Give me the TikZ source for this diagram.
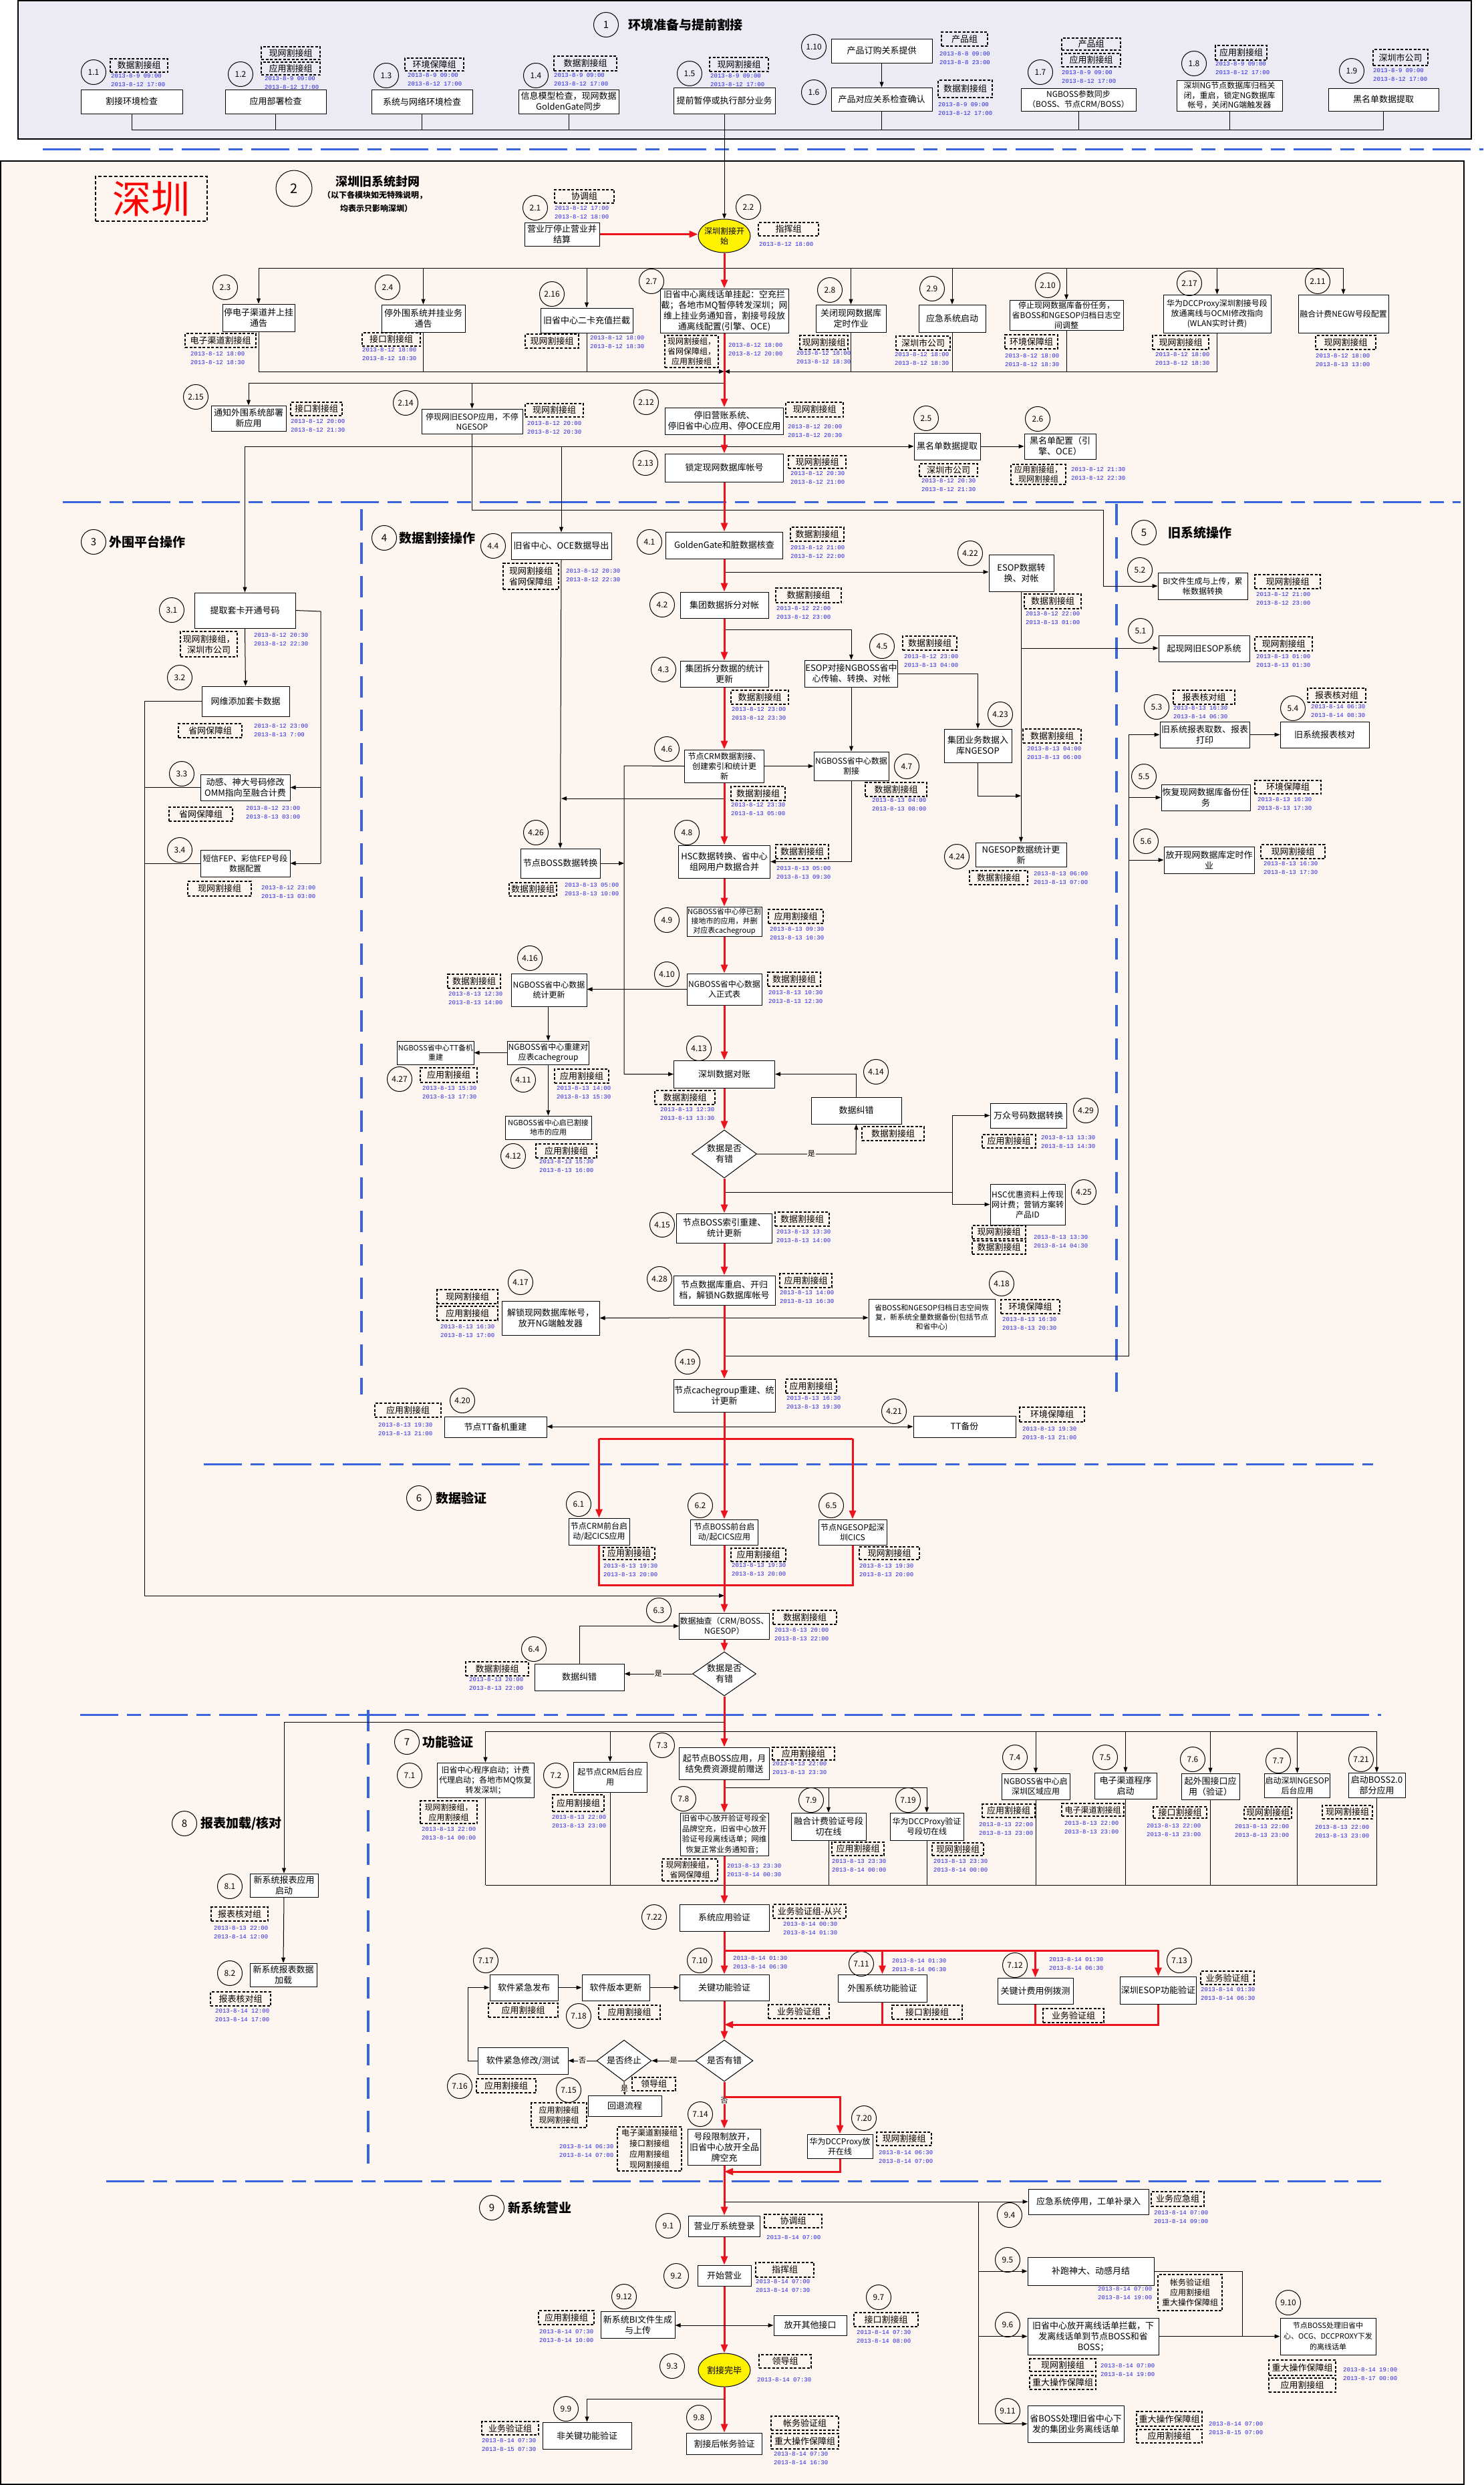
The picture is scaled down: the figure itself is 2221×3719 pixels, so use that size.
\documentclass[tikz,border=0pt]{standalone}
\usepackage{fontspec}
\setmainfont{Noto Sans CJK SC}
\newfontfamily\mono{Liberation Mono}
\usetikzlibrary{arrows.meta,shapes.geometric}
\definecolor{pA}{RGB}{236,234,243}
\definecolor{pB}{RGB}{253,245,240}
\definecolor{bl}{RGB}{58,100,222}
\definecolor{dtc}{RGB}{35,35,225}
\definecolor{rr}{RGB}{235,20,28}
\newcommand\fsz[2]{\fontsize{#1}{#2}\selectfont}
\newcommand\bxn[7][]{\node[bx,minimum width={(#5)-(#3)},minimum height={(#6)-(#4)},#1] (#2) at ({((#3)+(#5))/2},{((#4)+(#6))/2}) {#7};}
\newcommand\grn[7][]{\node[grp,minimum width={(#5)-(#3)},minimum height={(#6)-(#4)},#1] (#2) at ({((#3)+(#5))/2},{((#4)+(#6))/2}) {#7};}
\newcommand\mbx[6][]{\node[bx,minimum width={#3},minimum height={(#5)-(#4)},#1] (#2) at (1084,{((#4)+(#5))/2}) {#6};}
\newcommand\cnn[4]{\node[cn] (#1) at (#2,#3) {#4};}
\newcommand\dtn[4]{\node[dt] (#1) at (#2,#3) {#4};}
\begin{document}
\begin{tikzpicture}[x=1pt,y=-1pt,
 bx/.style={draw,fill=white,line width=1pt,inner sep=1pt,align=center,font=\fsz{13}{16}},
 grp/.style={draw,dash pattern=on 4pt off 2.5pt,line width=1.1pt,inner sep=1pt,align=center,font=\fsz{13}{16}},
 cn/.style={circle,draw,line width=1pt,minimum size=37pt,inner sep=0pt,font=\fsz{12}{14}},
 dt/.style={anchor=west,inner sep=0pt,align=left,text=dtc,font=\mono\fsz{9}{13}},
 ln/.style={line width=1pt},
 ar/.style={line width=1pt,-{Triangle[length=8pt,width=6pt]}},
 rl/.style={line width=3pt,draw=rr},
 ra/.style={line width=3pt,draw=rr,-{Triangle[length=13pt,width=10pt]}},
 bd/.style={draw=bl,line width=3pt,dash pattern=on 57pt off 13pt on 21pt off 13pt},
 bv/.style={draw=bl,line width=3.5pt,dash pattern=on 32pt off 18pt},
 ttl/.style={anchor=west,inner sep=0pt,font=\bfseries\fsz{19}{22}},
 dia/.style={diamond,draw,fill=white,line width=1pt,inner sep=0pt,aspect=1.4,align=center,font=\fsz{13}{16}},
 yel/.style={ellipse,draw,fill=yellow,line width=1pt,inner sep=0pt},
 lab/.style={fill=pB,inner sep=1pt,font=\fsz{11}{12}},
 f12/.style={font=\fsz{12}{15}},
 f11/.style={font=\fsz{11}{14}}]
\useasboundingbox (0,0) rectangle (2221,3719);
% panels
\filldraw[fill=pA,draw=black,line width=1.5pt] (27,1) rectangle (2202,208);
\filldraw[fill=pB,draw=black,line width=1.5pt] (1,241) rectangle (2191,3718);
% blue dashed separators
\draw[bd] (64,223) -- (2220,223);
\draw[bd] (94,751) -- (2186,751);
\draw[bv] (541,762) -- (541,2087);
\draw[bv] (1671,754) -- (1671,2083);
\draw[bd] (305,2191) -- (2055,2191);
\draw[bd] (120,2566) -- (2067,2566);
\draw[bv] (551,2559) -- (551,3238);
\draw[bd] (159,3264) -- (2067,3264);

% ===== Section 1 =====
\node[cn,font=\fsz{15}{18}] (c1) at (907,37) {1};
\node[ttl] (t1) at (940,37) {环境准备与提前割接};
\bxn{b11}{121}{134}{273}{170}{割接环境检查}
\cnn{c11}{140}{108}{1.1}
\grn{g11}{165}{88}{251}{108}{数据割接组}
\dtn{d11}{166}{120.5}{2013-8-9 09:00\\2013-8-12 17:00}
\bxn{b12}{337}{134}{488}{170}{应用部署检查}
\cnn{c12}{360}{111}{1.2}
\grn{g12a}{391}{70}{479}{89}{现网割接组}
\grn{g12b}{391}{93}{479}{112}{应用割接组}
\dtn{d12}{396}{124}{2013-8-9 09:00\\2013-8-12 17:00}
\bxn{b13}{556}{134}{707}{170}{系统与网络环境检查}
\cnn{c13}{578}{113}{1.3}
\grn{g13}{606}{87}{694}{106}{环境保障组}
\dtn{d13}{610}{119.5}{2013-8-9 09:00\\2013-8-12 17:00}
\bxn{b14}{776}{134}{926}{170}{信息模型检查，现网数据\\GoldenGate同步}
\cnn{c14}{802}{113}{1.4}
\grn{g14}{829}{84}{923}{106}{数据割接组}
\dtn{d14}{829}{119.5}{2013-8-9 09:00\\2013-8-12 17:00}
\bxn{b15}{1008}{131}{1160}{170}{提前暂停或执行部分业务}
\cnn{c15}{1032}{110}{1.5}
\grn{g15}{1062}{86}{1150}{107}{现网割接组}
\dtn{d15}{1063}{120.5}{2013-8-9 09:00\\2013-8-12 17:00}
\bxn{b110}{1244}{58}{1395}{94}{产品订购关系提供}
\cnn{c110}{1218}{70}{1.10}
\grn{g110}{1409}{48}{1478}{69}{产品组}
\dtn{d110}{1406}{87.5}{2013-8-8 09:00\\2013-8-8 23:00}
\bxn{b16}{1244}{131}{1395}{166}{产品对应关系检查确认}
\cnn{c16}{1218}{138}{1.6}
\grn{g16}{1404}{120}{1485}{146}{数据割接组}
\dtn{d16}{1404}{163.5}{2013-8-9 09:00\\2013-8-12 17:00}
\bxn[f12]{b17}{1528}{132}{1700}{166}{NGBOSS参数同步\\（BOSS、节点CRM/BOSS）}
\cnn{c17}{1557}{108}{1.7}
\grn{g17a}{1589}{57}{1677}{75}{产品组}
\grn{g17b}{1589}{80}{1677}{100}{应用割接组}
\dtn{d17}{1589}{115}{2013-8-9 09:00\\2013-8-12 17:00}
\bxn[font=\fsz{12}{14.5}]{b18}{1761}{120}{1919}{166}{深圳NG节点数据库归档关\\闭，重启，锁定NG数据库\\帐号，关闭NG端触发器}
\cnn{c18}{1787}{95}{1.8}
\grn{g18}{1819}{68}{1896}{90}{应用割接组}
\dtn{d18}{1819}{102.5}{2013-8-9 09:00\\2013-8-12 17:00}
\bxn{b19}{1988}{132}{2153}{166}{黑名单数据提取}
\cnn{c19}{2023}{106}{1.9}
\grn{g19}{2055}{74}{2137}{98}{深圳市公司}
\dtn{d19}{2055}{112}{2013-8-9 09:00\\2013-8-12 17:00}

% ===== Section 2 =====
\node[cn,minimum size=54pt,font=\fsz{20}{22}] (c2) at (440,282) {2};
\node[font=\bfseries\fsz{18}{20},inner sep=0pt] (t2) at (565,272) {深圳旧系统封网};
\node[font=\bfseries\fsz{12}{14},inner sep=0pt] (t2b) at (561,292) {（以下各模块如无特殊说明，};
\node[font=\bfseries\fsz{12}{14},inner sep=0pt] (t2c) at (563,312) {均表示只影响深圳）};
\node[draw,dash pattern=on 5pt off 3pt,line width=1.2pt,minimum width=167pt,minimum height=67pt,inner sep=0pt,text=red,font=\fsz{58}{60}] (sz) at (226.5,297.5) {深圳};

\bxn{b21}{785}{333}{897}{368}{营业厅停止营业并\\结算}
\cnn{c21}{801}{311}{2.1}
\grn{g21}{830}{284}{919}{304}{协调组}
\dtn{d21}{830}{318.5}{2013-8-12 17:00\\2013-8-12 18:00}
\node[yel,minimum width=78pt,minimum height=50pt] (e22) at (1084,353) {};
\node[font=\fsz{12}{15},align=center] (e22t) at (1084,353) {深圳割接开\\始};
\cnn{c22}{1120}{310}{2.2}
\grn{g22}{1135}{333}{1225}{353}{指挥组}
\dtn{d22}{1136}{366}{2013-8-12 18:00}

\bxn{b23}{333}{455}{441}{496}{停电子渠道并上挂\\通告}
\cnn{c23}{337}{430}{2.3}
\grn{g23}{277}{499}{383}{520}{电子渠道割接组}
\dtn{d23}{285}{536}{2013-8-12 18:00\\2013-8-12 18:30}
\bxn{b24}{571}{456}{696}{497}{停外围系统并挂业务\\通告}
\cnn{c24}{580}{430}{2.4}
\grn{g24}{542}{498}{629}{518}{接口割接组}
\dtn{d24}{542}{530.5}{2013-8-12 18:00\\2013-8-12 18:30}
\bxn{b216}{809}{461}{947}{498}{旧省中心二卡充值拦截}
\cnn{c216}{826}{440}{2.16}
\grn{g216}{786}{500}{866}{521}{现网割接组}
\dtn{d216}{883}{512.5}{2013-8-12 18:00\\2013-8-12 18:30}
\mbx{b27}{192}{432}{498}{旧省中心离线话单挂起：空充拦\\截；各地市MQ暂停转发深圳；网\\维上挂业务通知音，割接号段放\\通离线配置(引擎、OCE)}
\cnn{c27}{975}{421}{2.7}
\grn[f12]{g27}{995}{502}{1075}{550}{现网割接组，\\省网保障组，\\应用割接组}
\dtn{d27}{1090}{523.5}{2013-8-12 18:00\\2013-8-12 20:00}
\bxn{b28}{1221}{456}{1326}{497}{关闭现网数据库\\定时作业}
\cnn{c28}{1242}{434}{2.8}
\grn{g28}{1197}{502}{1269}{523}{现网割接组}
\dtn{d28}{1192}{535.5}{2013-8-12 18:00\\2013-8-12 18:30}
\bxn{b29}{1375}{456}{1475}{497}{应急系统启动}
\cnn{c29}{1395}{432}{2.9}
\grn{g29}{1341}{503}{1422}{524}{深圳市公司}
\dtn{d29}{1339}{537.5}{2013-8-12 18:00\\2013-8-12 18:30}
\bxn[f12]{b210}{1511}{449}{1681}{494}{停止现网数据库备份任务，\\省BOSS和NGESOP归档日志空\\间调整}
\cnn{c210}{1568}{427}{2.10}
\grn{g210}{1504}{501}{1583}{522}{环境保障组}
\dtn{d210}{1504}{539.5}{2013-8-12 18:00\\2013-8-12 18:30}
\bxn[f12]{b217}{1741}{441}{1902}{498}{华为DCCProxy深圳割接号段\\放通离线与OCMI修改指向\\(WLAN实时计费)}
\cnn{c217}{1780}{424}{2.17}
\grn{g217}{1725}{502}{1809}{523}{现网割接组}
\dtn{d217}{1729}{537.5}{2013-8-12 18:00\\2013-8-12 18:30}
\bxn[f12]{b211}{1943}{441}{2078}{498}{融合计费NEGW号段配置}
\cnn{c211}{1972}{421}{2.11}
\grn{g211}{1969}{502}{2059}{523}{现网割接组}
\dtn{d211}{1969}{539.5}{2013-8-12 18:00\\2013-8-13 13:00}

\bxn{b215}{316}{607}{428}{645}{通知外围系统部署\\新应用}
\cnn{c215}{293}{594}{2.15}
\grn{g215}{435}{602}{512}{622}{接口割接组}
\dtn{d215}{435}{637.5}{2013-8-12 20:00\\2013-8-12 21:30}
\bxn[f12]{b214}{631}{612}{782}{649}{停现网旧ESOP应用，不停\\NGESOP}
\cnn{c214}{607}{603}{2.14}
\grn{g214}{786}{604}{873}{624}{现网割接组}
\dtn{d214}{789}{640.5}{2013-8-12 20:00\\2013-8-12 20:30}
\mbx{b212}{177}{610}{650}{停旧营账系统、\\停旧省中心应用、停OCE应用}
\cnn{c212}{967}{602}{2.12}
\grn{g212}{1176}{602}{1262}{624}{现网割接组}
\dtn{d212}{1179}{645.5}{2013-8-12 20:00\\2013-8-12 20:30}
\mbx{b213}{177}{679}{721}{锁定现网数据库帐号}
\cnn{c213}{966}{693}{2.13}
\grn{g213}{1180}{682}{1266}{701}{现网割接组}
\dtn{d213}{1183}{715.5}{2013-8-12 20:30\\2013-8-12 21:00}
\bxn{b25}{1368}{648}{1467}{688}{黑名单数据提取}
\cnn{c25}{1386}{626}{2.5}
\grn{g25}{1376}{694}{1463}{713}{深圳市公司}
\dtn{d25}{1379}{726.5}{2013-8-12 20:30\\2013-8-12 21:30}
\bxn{b26}{1533}{649}{1640}{687}{黑名单配置（引\\擎、OCE）}
\cnn{c26}{1553}{627}{2.6}
\grn[font=\fsz{12}{14.5}]{g26}{1513}{695}{1595}{725}{应用割接组，\\现网割接组}
\dtn{d26}{1603}{709}{2013-8-12 21:30\\2013-8-12 22:30}

% ===== Section 3 =====
\node[cn,font=\fsz{15}{18}] (c3) at (140,811) {3};
\node[ttl] (t3) at (163,811) {外围平台操作};
\bxn{b31}{291}{887}{442}{940}{提取套卡开通号码}
\cnn{c31}{257}{913}{3.1}
\grn{g31}{270}{945}{355}{983}{现网割接组，\\深圳市公司}
\dtn{d31}{380}{957}{2013-8-12 20:30\\2013-8-12 22:30}
\bxn{b32}{302}{1027}{433}{1072}{网维添加套卡数据}
\cnn{c32}{269}{1014}{3.2}
\grn{g32}{267}{1083}{362}{1104}{省网保障组}
\dtn{d32}{380}{1093.5}{2013-8-12 23:00\\2013-8-13 7:00}
\bxn{b33}{300}{1159}{434}{1198}{动感、神大号码修改\\OMM指向至融合计费}
\cnn{c33}{272}{1158}{3.3}
\grn{g33}{253}{1208}{348}{1229}{省网保障组}
\dtn{d33}{368}{1216}{2013-8-12 23:00\\2013-8-13 03:00}
\bxn[f12]{b34}{300}{1272}{434}{1312}{短信FEP、彩信FEP号段\\数据配置}
\cnn{c34}{269}{1272}{3.4}
\grn{g34}{281}{1319}{376}{1341}{现网割接组}
\dtn{d34}{391}{1335}{2013-8-12 23:00\\2013-8-13 03:00}

% ===== Section 4 =====
\node[cn,font=\fsz{15}{18}] (c4) at (575,805) {4};
\node[ttl] (t4) at (597,805) {数据割接操作};
\bxn{b44}{765}{797}{915}{837}{旧省中心、OCE数据导出}
\cnn{c44}{738}{817}{4.4}
\grn{g44}{753}{843}{836}{882}{现网割接组\\省网保障组}
\dtn{d44}{847}{861.5}{2013-8-12 20:30\\2013-8-12 22:30}
\mbx{b41}{175}{796}{836}{GoldenGate和脏数据核查}
\cnn{c41}{972}{811}{4.1}
\grn{g41}{1183}{789}{1263}{810}{数据割接组}
\dtn{d41}{1183}{826.5}{2013-8-12 21:00\\2013-8-12 22:00}
\mbx{b42}{132}{886}{925}{集团数据拆分对帐}
\cnn{c42}{991}{905}{4.2}
\grn{g42}{1161}{880}{1259}{902}{数据割接组}
\dtn{d42}{1162}{917.5}{2013-8-12 22:00\\2013-8-12 23:00}
\bxn{b422}{1480}{830}{1577}{885}{ESOP数据转\\换、对帐}
\cnn{c422}{1452}{828}{4.22}
\grn{g422}{1533}{889}{1618}{911}{数据割接组}
\dtn{d422}{1535}{925.5}{2013-8-12 22:00\\2013-8-13 01:00}
\mbx{b43}{132}{989}{1028}{集团拆分数据的统计\\更新}
\cnn{c43}{993}{1002}{4.3}
\grn{g43}{1094}{1033}{1180}{1054}{数据割接组}
\dtn{d43}{1095}{1068.5}{2013-8-12 23:00\\2013-8-12 23:30}
\bxn{b45}{1207}{988}{1341}{1028}{ESOP对接NGBOSS省中\\心传输、转换、对帐}
\cnn{c45}{1320}{967}{4.5}
\grn{g45}{1351}{952}{1432}{973}{数据割接组}
\dtn{d45}{1353}{989.5}{2013-8-12 23:00\\2013-8-13 04:00}
\bxn{b423}{1413}{1091}{1514}{1141}{集团业务数据入\\库NGESOP}
\cnn{c423}{1497}{1069}{4.23}
\grn{g423}{1531}{1091}{1618}{1112}{数据割接组}
\dtn{d423}{1537}{1127}{2013-8-13 04:00\\2013-8-13 06:00}
\mbx[f12]{b46}{119}{1122}{1171}{节点CRM数据割接、\\创建索引和统计更\\新}
\cnn{c46}{998}{1121}{4.6}
\grn{g46}{1094}{1177}{1175}{1198}{数据割接组}
\dtn{d46}{1094}{1211.5}{2013-8-12 23:30\\2013-8-13 05:00}
\bxn[f12]{b47}{1218}{1125}{1330}{1168}{NGBOSS省中心数据\\割接}
\cnn{c47}{1357}{1147}{4.7}
\grn{g47}{1295}{1171}{1387}{1192}{数据割接组}
\dtn{d47}{1305}{1204.5}{2013-8-13 04:00\\2013-8-13 08:00}
\bxn{b424}{1460}{1261}{1596}{1297}{NGESOP数据统计更\\新}
\cnn{c424}{1432}{1282}{4.24}
\grn{g424}{1451}{1303}{1538}{1324}{数据割接组}
\dtn{d424}{1547}{1314}{2013-8-13 06:00\\2013-8-13 07:00}
\bxn{b426}{779}{1270}{898}{1314}{节点BOSS数据转换}
\cnn{c426}{802}{1246}{4.26}
\grn{g426}{762}{1321}{833}{1341}{数据割接组}
\dtn{d426}{845}{1331.5}{2013-8-13 05:00\\2013-8-13 10:00}
\mbx{b48}{137}{1265}{1314}{HSC数据转换、省中心\\组网用户数据合并}
\cnn{c48}{1028}{1246}{4.8}
\grn{g48}{1161}{1264}{1240}{1285}{数据割接组}
\dtn{d48}{1162}{1306.5}{2013-8-13 05:00\\2013-8-13 09:30}
\mbx[f11]{b49}{112}{1357}{1401}{NGBOSS省中心停已割\\接地市的应用，并删\\对应表cachegroup}
\cnn{c49}{998}{1377}{4.9}
\grn{g49}{1150}{1361}{1232}{1382}{应用割接组}
\dtn{d49}{1152}{1397}{2013-8-13 09:30\\2013-8-13 10:30}
\mbx[f12]{b410}{112}{1457}{1504}{NGBOSS省中心数据\\入正式表}
\cnn{c410}{998}{1458}{4.10}
\grn{g410}{1149}{1455}{1228}{1476}{数据割接组}
\dtn{d410}{1150}{1492.5}{2013-8-13 10:30\\2013-8-13 12:30}
\bxn[f12]{b416}{765}{1457}{878}{1506}{NGBOSS省中心数据\\统计更新}
\cnn{c416}{793}{1434}{4.16}
\grn{g416}{670}{1458}{749}{1479}{数据割接组}
\dtn{d416}{671}{1494}{2013-8-13 12:30\\2013-8-13 14:00}
\bxn[f12]{b411}{760}{1558}{881}{1593}{NGBOSS省中心重建对\\应表cachegroup}
\cnn{c411}{783}{1616}{4.11}
\grn{g411}{830}{1600}{911}{1621}{应用割接组}
\dtn{d411}{833}{1635.5}{2013-8-13 14:00\\2013-8-13 15:30}
\bxn[f11]{b427}{595}{1558}{709}{1593}{NGBOSS省中心TT备机\\重建}
\cnn{c427}{598}{1615}{4.27}
\grn{g427}{629}{1598}{714}{1620}{应用割接组}
\dtn{d427}{632}{1635.5}{2013-8-13 15:30\\2013-8-13 17:30}
\bxn[f11]{b412}{756}{1670}{885}{1705}{NGBOSS省中心启已割接\\地市的应用}
\cnn{c412}{768}{1730}{4.12}
\grn{g412}{802}{1712}{893}{1733}{应用割接组}
\dtn{d412}{807}{1745}{2013-8-13 15:30\\2013-8-13 16:00}
\mbx{b413}{151}{1587}{1628}{深圳数据对账}
\cnn{c413}{1046}{1569}{4.13}
\grn{g413}{980}{1632}{1070}{1653}{数据割接组}
\dtn{d413}{988}{1667.5}{2013-8-13 12:30\\2013-8-13 13:30}
\bxn{b414}{1214}{1642}{1349}{1682}{数据纠错}
\cnn{c414}{1311}{1604}{4.14}
\grn{g414}{1290}{1686}{1383}{1707}{数据割接组}
\node[dia,minimum width=97pt,minimum height=72pt] (d41) at (1084,1727) {数据是否\\有错};
\bxn{b429}{1482}{1651}{1596}{1688}{万众号码数据转换}
\cnn{c429}{1625}{1662}{4.29}
\grn{g429}{1470}{1698}{1550}{1718}{应用割接组}
\dtn{d429}{1558}{1709}{2013-8-13 13:30\\2013-8-13 14:30}
\bxn[f12]{b425}{1482}{1772}{1594}{1833}{HSC优惠资料上传现\\网计费；营销方案转\\产品ID}
\cnn{c425}{1622}{1784}{4.25}
\grn{g425a}{1455}{1834}{1535}{1854}{现网割接组}
\grn{g425b}{1455}{1857}{1535}{1877}{数据割接组}
\dtn{d425}{1547}{1858.5}{2013-8-13 13:30\\2013-8-14 04:30}
\mbx{b415}{143}{1816}{1860}{节点BOSS索引重建、\\统计更新}
\cnn{c415}{991}{1833}{4.15}
\grn{g415}{1160}{1814}{1241}{1835}{数据割接组}
\dtn{d415}{1162}{1850.5}{2013-8-13 13:30\\2013-8-13 14:00}
\mbx{b428}{152}{1909}{1953}{节点数据库重启、开归\\档，解锁NG数据库帐号}
\cnn{c428}{987}{1914}{4.28}
\grn{g428}{1167}{1906}{1245}{1927}{应用割接组}
\dtn{d428}{1167}{1941}{2013-8-13 14:00\\2013-8-13 16:30}
\bxn{b417}{751}{1947}{897}{1998}{解锁现网数据库帐号，\\放开NG端触发器}
\cnn{c417}{779}{1919}{4.17}
\grn{g417a}{654}{1930}{745}{1951}{现网割接组}
\grn{g417b}{654}{1955}{745}{1976}{应用割接组}
\dtn{d417}{659}{1992}{2013-8-13 16:30\\2013-8-13 17:00}
\bxn[f11]{b418}{1300}{1944}{1489}{2000}{省BOSS和NGESOP归档日志空间恢\\复，新系统全量数据备份(包括节点\\和省中心)}
\cnn{c418}{1499}{1921}{4.18}
\grn{g418}{1498}{1945}{1586}{1966}{环境保障组}
\dtn{d418}{1500}{1981.5}{2013-8-13 16:30\\2013-8-13 20:30}
\mbx{b419}{152}{2064}{2113}{节点cachegroup重建、统\\计更新}
\cnn{c419}{1029}{2038}{4.19}
\grn{g419}{1176}{2064}{1252}{2085}{应用割接组}
\dtn{d419}{1177}{2099.5}{2013-8-13 16:30\\2013-8-13 19:30}
\bxn{b420}{665}{2120}{818}{2151}{节点TT备机重建}
\cnn{c420}{692}{2096}{4.20}
\grn{g420}{561}{2100}{660}{2121}{应用割接组}
\dtn{d420}{566}{2139.5}{2013-8-13 19:30\\2013-8-13 21:00}
\bxn{b421}{1367}{2119}{1520}{2151}{TT备份}
\cnn{c421}{1338}{2112}{4.21}
\grn{g421}{1526}{2106}{1623}{2128}{环境保障组}
\dtn{d421}{1530}{2145.5}{2013-8-13 19:30\\2013-8-13 21:00}

% ===== Section 5 =====
\node[cn,font=\fsz{15}{18}] (c5) at (1712,797) {5};
\node[ttl] (t5) at (1748,797) {旧系统操作};
\bxn[f12]{b52}{1733}{857}{1867}{897}{BI文件生成与上传，累\\帐数据转换}
\cnn{c52}{1706}{853}{5.2}
\grn{g52}{1878}{860}{1976}{881}{现网割接组}
\dtn{d52}{1880}{896.5}{2013-8-12 21:00\\2013-8-12 23:00}
\bxn{b51}{1734}{951}{1870}{990}{起现网旧ESOP系统}
\cnn{c51}{1707}{944}{5.1}
\grn{g51}{1878}{953}{1964}{974}{现网割接组}
\dtn{d51}{1880}{989.5}{2013-8-13 01:00\\2013-8-13 01:30}
\bxn{b53}{1736}{1080}{1870}{1119}{旧系统报表取数、报表\\打印}
\cnn{c53}{1731}{1058}{5.3}
\grn{g53}{1756}{1033}{1848}{1054}{报表核对组}
\dtn{d53}{1756}{1066.5}{2013-8-13 16:30\\2013-8-14 06:30}
\bxn{b54}{1916}{1080}{2049}{1119}{旧系统报表核对}
\cnn{c54}{1935}{1060}{5.4}
\grn{g54}{1957}{1030}{2044}{1051}{报表核对组}
\dtn{d54}{1962}{1064.5}{2013-8-14 06:30\\2013-8-14 08:30}
\bxn{b55}{1738}{1174}{1871}{1213}{恢复现网数据库备份任\\务}
\cnn{c55}{1712}{1162}{5.5}
\grn{g55}{1878}{1168}{1977}{1188}{环境保障组}
\dtn{d55}{1882}{1203.5}{2013-8-13 16:30\\2013-8-13 17:30}
\bxn{b56}{1742}{1267}{1877}{1307}{放开现网数据库定时作\\业}
\cnn{c56}{1715}{1259}{5.6}
\grn{g56}{1887}{1264}{1983}{1285}{现网割接组}
\dtn{d56}{1891}{1299}{2013-8-13 16:30\\2013-8-13 17:30}

% ===== Section 6 =====
\node[cn,font=\fsz{15}{18}] (c6) at (627,2242) {6};
\node[ttl] (t6) at (652,2242) {数据验证};
\bxn[f12]{b61}{851}{2272}{942}{2312}{节点CRM前台启\\动/起CICS应用}
\cnn{c61}{866}{2251}{6.1}
\grn{g61}{903}{2316}{980}{2334}{应用割接组}
\dtn{d61}{903}{2350.5}{2013-8-13 19:30\\2013-8-13 20:00}
\mbx[f12]{b62}{101}{2274}{2312}{节点BOSS前台启\\动/起CICS应用}
\cnn{c62}{1048}{2253}{6.2}
\grn{g62}{1094}{2317}{1176}{2337}{应用割接组}
\dtn{d62}{1095}{2349.5}{2013-8-13 19:30\\2013-8-13 20:00}
\bxn[f12]{b65}{1225}{2274}{1327}{2312}{节点NGESOP起深\\圳CICS}
\cnn{c65}{1244}{2253}{6.5}
\grn{g65}{1286}{2315}{1376}{2334}{现网割接组}
\dtn{d65}{1286}{2350.5}{2013-8-13 19:30\\2013-8-13 20:00}
\mbx[f12]{b63}{134}{2414}{2453}{数据抽查（CRM/BOSS、\\NGESOP）}
\cnn{c63}{986}{2410}{6.3}
\grn{g63}{1157}{2410}{1252}{2431}{数据割接组}
\dtn{d63}{1159}{2446.5}{2013-8-13 20:00\\2013-8-13 22:00}
\bxn{b64}{800}{2490}{934}{2530}{数据纠错}
\cnn{c64}{799}{2468}{6.4}
\grn{g64}{697}{2487}{791}{2508}{数据割接组}
\dtn{d64}{702}{2520}{2013-8-13 20:00\\2013-8-13 22:00}
\node[dia,minimum width=95pt,minimum height=66pt] (d6) at (1084,2505) {数据是否\\有错};

% ===== Section 7 / 8 =====
\node[cn,font=\fsz{15}{18}] (c7) at (609,2607) {7};
\node[ttl] (t7) at (632,2607) {功能验证};
\node[cn,font=\fsz{15}{18}] (c8) at (276,2729) {8};
\node[ttl] (t8) at (300,2729) {报表加载/核对};
\bxn{b81}{374}{2804}{476}{2839}{新系统报表应用\\启动}
\cnn{c81}{344}{2823}{8.1}
\grn{g81}{316}{2854}{401}{2875}{报表核对组}
\dtn{d81}{320}{2891.5}{2013-8-13 22:00\\2013-8-14 12:00}
\bxn{b82}{374}{2938}{474}{2973}{新系统报表数据\\加载}
\cnn{c82}{344}{2953}{8.2}
\grn{g82}{315}{2981}{405}{3002}{报表核对组}
\dtn{d82}{322}{3016}{2013-8-14 12:00\\2013-8-14 17:00}
\bxn[f12]{b71}{654}{2638}{799}{2690}{旧省中心程序启动；计费\\代理启动；各地市MQ恢复\\转发深圳；}
\cnn{c71}{613}{2657}{7.1}
\grn[f12]{g71}{629}{2695}{714}{2729}{现网割接组，\\应用割接组}
\dtn{d71}{631}{2743.5}{2013-8-13 22:00\\2013-8-14 00:00}
\bxn[f12]{b72}{858}{2637}{968}{2682}{起节点CRM后台应\\用}
\cnn{c72}{832}{2657}{7.2}
\grn{g72}{827}{2686}{904}{2711}{应用割接组}
\dtn{d72}{826}{2726}{2013-8-13 22:00\\2013-8-13 23:00}
\mbx{b73}{135}{2615}{2663}{起节点BOSS应用，月\\结免费资源提前赠送}
\cnn{c73}{991}{2612}{7.3}
\grn{g73}{1156}{2615}{1249}{2634}{应用割接组}
\dtn{d73}{1156}{2645.5}{2013-8-13 22:00\\2013-8-13 23:30}
\mbx[font=\fsz{11.5}{15.5}]{b78}{132}{2713}{2777}{旧省中心放开验证号段全\\品牌空充，旧省中心放开\\验证号段离线话单；网维\\恢复正常业务通知音；}
\cnn{c78}{1023}{2692}{7.8}
\grn[f12]{g78}{991}{2782}{1074}{2815}{现网割接组，\\省网保障组}
\dtn{d78}{1088}{2798.5}{2013-8-13 23:30\\2013-8-14 00:30}
\bxn{b79}{1184}{2713}{1296}{2754}{融合计费验证号段\\切在线}
\cnn{c79}{1214}{2694}{7.9}
\grn{g79}{1245}{2757}{1323}{2777}{应用割接组}
\dtn{d79}{1245}{2791.5}{2013-8-13 23:30\\2013-8-14 00:00}
\bxn[f12]{b719}{1332}{2713}{1442}{2754}{华为DCCProxy验证\\号段切在线}
\cnn{c719}{1359}{2694}{7.19}
\grn{g719}{1395}{2758}{1472}{2777}{现网割接组}
\dtn{d719}{1397}{2791.5}{2013-8-13 23:30\\2013-8-14 00:00}
\bxn[f12]{b74}{1499}{2654}{1601}{2693}{NGBOSS省中心启\\深圳区域应用}
\cnn{c74}{1519}{2630}{7.4}
\grn{g74}{1470}{2700}{1549}{2720}{应用割接组}
\dtn{d74}{1465}{2736.5}{2013-8-13 22:00\\2013-8-13 23:00}
\bxn{b75}{1638}{2653}{1731}{2692}{电子渠道程序\\启动}
\cnn{c75}{1654}{2630}{7.5}
\grn[f12]{g75}{1589}{2699}{1682}{2718}{电子渠道割接组}
\dtn{d75}{1593}{2734.5}{2013-8-13 22:00\\2013-8-13 23:00}
\bxn{b76}{1768}{2654}{1855}{2693}{起外围接口应\\用（验证）}
\cnn{c76}{1785}{2633}{7.6}
\grn{g76}{1726}{2704}{1806}{2721}{接口割接组}
\dtn{d76}{1716}{2738.5}{2013-8-13 22:00\\2013-8-13 23:00}
\bxn[f12]{b77}{1894}{2654}{1989}{2690}{启动深圳NGESOP\\后台应用}
\cnn{c77}{1913}{2635}{7.7}
\grn{g77}{1862}{2704}{1933}{2722}{现网割接组}
\dtn{d77}{1848}{2739.5}{2013-8-13 22:00\\2013-8-13 23:00}
\bxn{b721}{2018}{2653}{2103}{2690}{启动BOSS2.0\\部分应用}
\cnn{c721}{2037}{2633}{7.21}
\grn{g721}{1979}{2702}{2054}{2722}{现网割接组}
\dtn{d721}{1968}{2740.5}{2013-8-13 22:00\\2013-8-13 23:00}
\mbx{b722}{134}{2850}{2890}{系统应用验证}
\cnn{c722}{979}{2869}{7.22}
\grn{g722}{1157}{2850}{1266}{2871}{业务验证组-从兴}
\dtn{d722}{1172}{2885.5}{2013-8-14 00:30\\2013-8-14 01:30}
\mbx{b710}{134}{2955}{2994}{关键功能验证}
\cnn{c710}{1047}{2934}{7.10}
\grn{g710}{1150}{3000}{1241}{3021}{业务验证组}
\dtn{d710}{1097}{2937}{2013-8-14 01:30\\2013-8-14 06:30}
\bxn{b711}{1254}{2955}{1387}{2996}{外围系统功能验证}
\cnn{c711}{1289}{2939}{7.11}
\grn{g711}{1335}{3001}{1440}{3022}{接口割接组}
\dtn{d711}{1335}{2941}{2013-8-14 01:30\\2013-8-14 06:30}
\bxn{b712}{1493}{2960}{1606}{2999}{关键计费用例拨测}
\cnn{c712}{1519}{2941}{7.12}
\grn{g712}{1561}{3006}{1652}{3027}{业务验证组}
\dtn{d712}{1570}{2938.5}{2013-8-14 01:30\\2013-8-14 06:30}
\bxn{b713}{1677}{2958}{1790}{2999}{深圳ESOP功能验证}
\cnn{c713}{1765}{2934}{7.13}
\grn{g713}{1797}{2950}{1877}{2970}{业务验证组}
\dtn{d713}{1797}{2984}{2013-8-14 01:30\\2013-8-14 06:30}
\bxn{b717}{733}{2955}{835}{2994}{软件紧急发布}
\cnn{c717}{727}{2934}{7.17}
\grn{g717}{731}{2998}{835}{3019}{应用割接组}
\bxn{b718}{871}{2955}{972}{2994}{软件版本更新}
\cnn{c718}{866}{3017}{7.18}
\grn{g718}{896}{3001}{988}{3022}{应用割接组}
\node[dia,minimum width=86pt,minimum height=62pt] (d71) at (1084,3084) {是否有错};
\node[dia,minimum width=82pt,minimum height=62pt] (d72) at (934,3084) {是否终止};
\bxn{bfix}{715}{3064}{850}{3104}{软件紧急修改/测试}
\cnn{c716}{688}{3122}{7.16}
\grn{g716}{713}{3111}{802}{3132}{应用割接组}
\bxn{bret}{880}{3136}{990}{3167}{回退流程}
\grn{gld}{946}{3109}{1011}{3129}{领导组}
\cnn{c715}{851}{3128}{7.15}
\grn[f12]{g715}{795}{3147}{878}{3184}{应用割接组\\现网割接组}
\mbx{b714}{109}{3186}{3240}{号段限制放开，\\旧省中心放开全品\\牌空充}
\cnn{c714}{1048}{3164}{7.14}
\grn[font=\fsz{12}{16}]{g714}{924}{3183}{1020}{3249}{电子渠道割接组\\接口割接组\\应用割接组\\现网割接组}
\dtn{d714}{837}{3219}{2013-8-14 06:30\\2013-8-14 07:00}
\bxn[f12]{b720}{1208}{3194}{1306}{3230}{华为DCCProxy放\\开在线}
\cnn{c720}{1293}{3170}{7.20}
\grn{g720}{1312}{3191}{1394}{3211}{现网割接组}
\dtn{d720}{1315}{3228}{2013-8-14 06:30\\2013-8-14 07:00}

% ===== Section 9 =====
\node[cn,font=\fsz{15}{18}] (c9) at (736,3304) {9};
\node[ttl] (t9) at (760,3304) {新系统营业};
\mbx{b91}{107}{3316}{3347}{营业厅系统登录}
\cnn{c91}{1000}{3331}{9.1}
\grn{g91}{1144}{3314}{1230}{3334}{协调组}
\dtn{d91}{1147}{3348}{2013-8-14 07:00}
\bxn{b94}{1539}{3276}{1719}{3314}{应急系统停用，工单补录入}
\cnn{c94}{1511}{3315}{9.4}
\grn{g94}{1723}{3280}{1802}{3302}{业务应急组}
\dtn{d94}{1727}{3317.5}{2013-8-14 07:00\\2013-8-14 09:00}
\mbx{b92}{80}{3390}{3421}{开始营业}
\cnn{c92}{1012}{3406}{9.2}
\grn{g92}{1131}{3386}{1218}{3408}{指挥组}
\dtn{d92}{1131}{3420.5}{2013-8-14 07:00\\2013-8-14 07:30}
\bxn{b95}{1538}{3378}{1727}{3420}{补跑神大、动感月结}
\cnn{c95}{1508}{3382}{9.5}
\grn[f12]{g95}{1733}{3404}{1829}{3458}{帐务验证组\\应用割接组\\重大操作保障组}
\dtn{d95}{1643}{3432}{2013-8-14 07:00\\2013-8-14 19:00}
\bxn{b96}{1538}{3469}{1734}{3524}{旧省中心放开离线话单拦截，下\\发离线话单到节点BOSS和省\\BOSS；}
\cnn{c96}{1508}{3479}{9.6}
\grn{g96a}{1541}{3530}{1640}{3549}{现网割接组}
\grn{g96b}{1541}{3555}{1640}{3576}{重大操作保障组}
\dtn{d96}{1647}{3546.5}{2013-8-14 07:00\\2013-8-14 19:00}
\bxn[font=\fsz{11}{16}]{b910}{1916}{3469}{2059}{3524}{节点BOSS处理旧省中\\心、OCG、DCCPROXY下发\\的离线话单}
\cnn{c910}{1928}{3446}{9.10}
\grn{g910a}{1899}{3532}{1999}{3555}{重大操作保障组}
\grn{g910b}{1899}{3559}{1999}{3580}{应用割接组}
\dtn{d910}{2010}{3553}{2013-8-14 19:00\\2013-8-17 00:00}
\bxn{b911}{1538}{3600}{1682}{3655}{省BOSS处理旧省中心下\\发的集团业务离线话单}
\cnn{c911}{1508}{3608}{9.11}
\grn{g911a}{1701}{3609}{1799}{3631}{重大操作保障组}
\grn{g911b}{1701}{3636}{1799}{3656}{应用割接组}
\dtn{d911}{1809}{3633.5}{2013-8-14 07:00\\2013-8-15 07:00}
\bxn{b97}{1158}{3465}{1267}{3495}{放开其他接口}
\cnn{c97}{1315}{3438}{9.7}
\grn{g97}{1278}{3461}{1374}{3482}{接口割接组}
\dtn{d97}{1282}{3496.5}{2013-8-14 07:30\\2013-8-14 08:00}
\bxn{b912}{899}{3459}{1010}{3499}{新系统BI文件生成\\与上传}
\cnn{c912}{934}{3437}{9.12}
\grn{g912}{806}{3458}{889}{3479}{应用割接组}
\dtn{d912}{807}{3495.5}{2013-8-14 07:30\\2013-8-14 10:00}
\node[yel,minimum width=78pt,minimum height=50pt] (e93) at (1084,3547) {};
\node[font=\fsz{13}{16}] (e93t) at (1084,3547) {割接完毕};
\cnn{c93}{1006}{3541}{9.3}
\grn{g93}{1136}{3524}{1214}{3544}{领导组}
\dtn{d93}{1133}{3561}{2013-8-14 07:30}
\bxn{b99}{812}{3625}{945}{3665}{非关键功能验证}
\cnn{c99}{847}{3605}{9.9}
\grn{g99}{721}{3624}{806}{3644}{业务验证组}
\dtn{d99}{721}{3659}{2013-8-14 07:30\\2013-8-15 07:30}
\mbx{b98}{113}{3641}{3673}{割接后帐务验证}
\cnn{c98}{1046}{3618}{9.8}
\grn{g98a}{1154}{3616}{1255}{3637}{帐务验证组}
\grn{g98b}{1154}{3642}{1255}{3665}{重大操作保障组}
\dtn{d98}{1158}{3678.5}{2013-8-14 07:30\\2013-8-14 16:30}

% ===== coordinates =====
\coordinate (h1) at (0,194);
\coordinate (h2) at (0,401);
\coordinate (h3) at (0,556);
\foreach \y in {556,573,668,763,856,942,1195,1784,1972,2029,2135,2153,2372,2388,2577,2591,2675,2821,2919,3030,3138,3250,3295,3480,3590}
  \coordinate (m\y) at (1084,\y);
\coordinate (v52) at (1651,763);
\coordinate (R3) at (480,915);
\coordinate (L3) at (216,2388);
\coordinate (x934) at (934,1146);
\coordinate (x1528) at (1528,970);
\coordinate (x1425) at (1425,1784);
\coordinate (v5) at (1689,2029);
\coordinate (x1281) at (1281,1727);
\coordinate (v9) at (1464,3295);
\coordinate (v910) at (1859,3496.5);

% ===== connectors: section 1 =====
\draw[ln] (b11.south) -- (b11.south |- h1) -- (b19.south |- h1) -- (b19.south);
\foreach \n in {b12,b13,b14,b16,b17,b18} \draw[ln] (\n.south) -- (\n.south |- h1);
\draw[ar] (b15.south) -- (e22.north);
\draw[ar] (b110.south) -- (b16.north);

% ===== section 2 =====
\draw[ra] (b21.east) -- (b21.east -| e22.west);
\draw[ln] (b23.north |- h2) -- (b211.north |- h2);
\foreach \n in {b23,b24,b216,b28,b29,b210,b217,b211} \draw[ar] (\n.north |- h2) -- (\n.north);
\foreach \n in {b23,b24,b216,b28,b29,b210,b217} \draw[ln] (\n.south) -- (\n.south |- h3);
\draw[ar] (b23.south |- h3) -- (m556);
\draw[ar] (b217.south |- h3) -- (m556);
\draw[ln] (m573) -- (b215.north |- m573);
\draw[ar] (b215.north |- m573) -- (b215.north);
\draw[ar] (b214.north |- m573) -- (b214.north);
\draw[ln] (b31.north |- m668) -- (m668);
\draw[ar] (m668) -- (b25.west);
\draw[ar] (b31.north |- m668) -- (b31.north);
\draw[ar] (b44.north |- m668) -- (b44.north);
\draw[ar] (b25.east) -- (b26.west);
\draw[ar] (b214.south) |- (v52) |- (b52.west);

% ===== section 3 =====
\draw[ar] (b31.south) -- (b32.north);
\draw[ln] (b31.east) -- (R3) -- (R3 |- b34.east);
\draw[ar] (R3 |- b33.east) -- (b33.east);
\draw[ar] (R3 |- b34.east) -- (b34.east);
\draw[ln] (b32.west) -| (L3);
\draw[ar] (L3) -- (m2388);
\draw[ln] (b33.west) -- (b33.west -| L3);
\draw[ln] (b34.west) -- (b34.west -| L3);

% ===== section 4 / 5 =====
\draw[ar] (m856) -- (m856 -| b422.west);
\draw[ar] (m942) -| (b45.north);
\draw[ar] (b45.east) -| (b423.north);
\draw[ar] (b45.south) -- (b47.north);
\draw[ar] (b46.east) -- (b46.east -| b47.west);
\draw[ar] (b47.south) |- (b48.east);
\draw[ar] (b422.south -| x1528) -- (b424.north -| x1528);
\draw[ar] (x1528) -- (x1528 -| b51.west);
\draw[ar] (b423.south) |- (b423.south |- 0,1191) -- (x1528 |- 0,1191);
\draw[ar] (b46.west) -- (x934) |- (b413.west);
\draw[ar] (m1195) -- (b44.south |- m1195);
\draw[ar] (b44.south) -- (b426.north);
\draw[ar] (b426.east) -- (b426.east -| x934);
\draw[ar] (b410.west) -- (b410.west -| b416.east);
\draw[ar] (b416.south -| b411.north) -- (b411.north);
\draw[ar] (b411.west) -- (b427.east);
\draw[ar] (b411.south) -- (b412.north);
\draw[ar] (b414.north) |- (b413.east);
\draw[ar] (d41.east) -- (x1281) node[lab,pos=0.55] {是} -- (b414.south);
\draw[ln] (m1784) -- (x1425);
\draw[ln] (x1425 |- b429.west) -- (x1425 |- b425.west);
\draw[ar] (x1425 |- b429.west) -- (b429.west);
\draw[ar] (x1425 |- b425.west) -- (b425.west);
\draw[ar] (m1972) -- (b417.east);
\draw[ar] (m1972) -- (b418.west);
\draw[ln] (m2029) -- (v5) -- (v5 |- b53.west);
\draw[ar] (v5 |- b53.west) -- (b53.west);
\draw[ar] (v5 |- b55.west) -- (b55.west);
\draw[ar] (v5 |- b56.west) -- (b56.west);
\draw[ar] (b53.east) -- (b54.west);
\draw[ar] (m2135) -- (m2135 -| b420.east);
\draw[ar] (m2135) -- (m2135 -| b421.west);

% ===== red main line =====
\draw[ra] (e22.south) -- (b27.north);
\draw[ra] (b27.south) -- (b212.north);
\draw[ra] (b212.south) -- (b213.north);
\draw[ra] (b213.south) -- (b41.north);
\draw[ra] (b41.south) -- (b42.north);
\draw[ra] (b42.south) -- (b43.north);
\draw[ra] (b43.south) -- (b46.north);
\draw[ra] (b46.south) -- (b48.north);
\draw[ra] (b48.south) -- (b49.north);
\draw[ra] (b49.south) -- (b410.north);
\draw[ra] (b410.south) -- (b413.north);
\draw[ra] (b413.south) -- (d41.north);
\draw[ra] (d41.south) -- (b415.north);
\draw[ra] (b415.south) -- (b428.north);
\draw[ra] (b428.south) -- (b419.north);
\draw[ra] (b419.south) -- (b62.north);
\draw[rl] (b61.north |- m2153) -- (b65.north |- m2153);
\draw[ra] (b61.north |- m2153) -- (b61.north);
\draw[ra] (b65.north |- m2153) -- (b65.north);
\draw[rl] (b61.south) -- (b61.south |- m2372) -- (b65.south |- m2372) -- (b65.south);
\draw[ra] (b62.south) -- (b63.north);
\draw[ra] (b63.south) -- (d6.north);
\draw[ar] (d6.west) -- (d6.west -| b64.east) node[lab,pos=0.5] {是};
\draw[ar] (b64.north) |- (b63.west);
\draw[ra] (d6.south) -- (b73.north);

% ===== section 7 / 8 =====
\draw[ar] (m2577) -| (b81.north);
\draw[ar] (b81.south) -- (b82.north);
\draw[ln] (b71.north |- m2591) -- (b721.north |- m2591);
\foreach \n in {b71,b72,b74,b75,b76,b77,b721} \draw[ar] (\n.north |- m2591) -- (\n.north);
\draw[ln] (b71.south |- m2821) -- (b721.south |- m2821);
\foreach \n in {b71,b72,b79,b719,b74,b75,b76,b77,b721} \draw[ln] (\n.south) -- (\n.south |- m2821);
\draw[ln] (m2675) -- (b719.north |- m2675);
\draw[ar] (b79.north |- m2675) -- (b79.north);
\draw[ar] (b719.north |- m2675) -- (b719.north);
\draw[ra] (b73.south) -- (b78.north);
\draw[ra] (b78.south) -- (b722.north);
\draw[ra] (b722.south) -- (b710.north);
\draw[rl] (m2919) -- (b713.north |- m2919);
\draw[ra] (b711.north |- m2919) -- (b711.north);
\draw[ra] (b712.north |- m2919) -- (b712.north);
\draw[ra] (b713.north |- m2919) -- (b713.north);
\draw[rl] (b711.south) -- (b711.south |- m3030);
\draw[rl] (b712.south) -- (b712.south |- m3030);
\draw[ra] (b713.south) |- (m3030);
\draw[ar] (b717.east) -- (b718.west);
\draw[ar] (b718.east) -- (b710.west);
\draw[ra] (b710.south) -- (d71.north);
\draw[ar] (d71.west) -- (d72.east) node[lab,midway] {是};
\draw[ar] (d72.west) -- (bfix.east) node[lab,midway] {否};
\draw[ar] (bfix.west) -- ++(-14,0) |- (b717.west);
\draw[ar] (d72.south) -- (bret.north) node[lab,midway] {是};
\draw[ra] (d71.south) -- (b714.north) node[lab,pos=0.4] {否};
\draw[ra] (m3138) -| (b720.north);
\draw[ra] (b720.south) |- (m3250);
\draw[ra] (b714.south) -- (b91.north);

% ===== section 9 =====
\draw[ra] (b91.south) -- (b92.north);
\draw[ra] (b92.south) -- (e93.north);
\draw[ra] (e93.south) -- (b98.north);
\draw[ar] (m3295) -- (b94.west);
\draw[ln] (v9) -- (v9 |- b911.west);
\draw[ar] (v9 |- b95.west) -- (b95.west);
\draw[ar] (v9 |- b96.west) -- (b96.west);
\draw[ar] (v9 |- b911.west) -- (b911.west);
\draw[ln] (b95.east) -| (v910);
\draw[ar] (b96.east) -- (b910.west);
\draw[ar] (m3480) -- (m3480 -| b97.west);
\draw[ar] (m3480) -- (m3480 -| b912.east);
\draw[ar] (m3590) -| (b99.north);
\end{tikzpicture}
\end{document}
